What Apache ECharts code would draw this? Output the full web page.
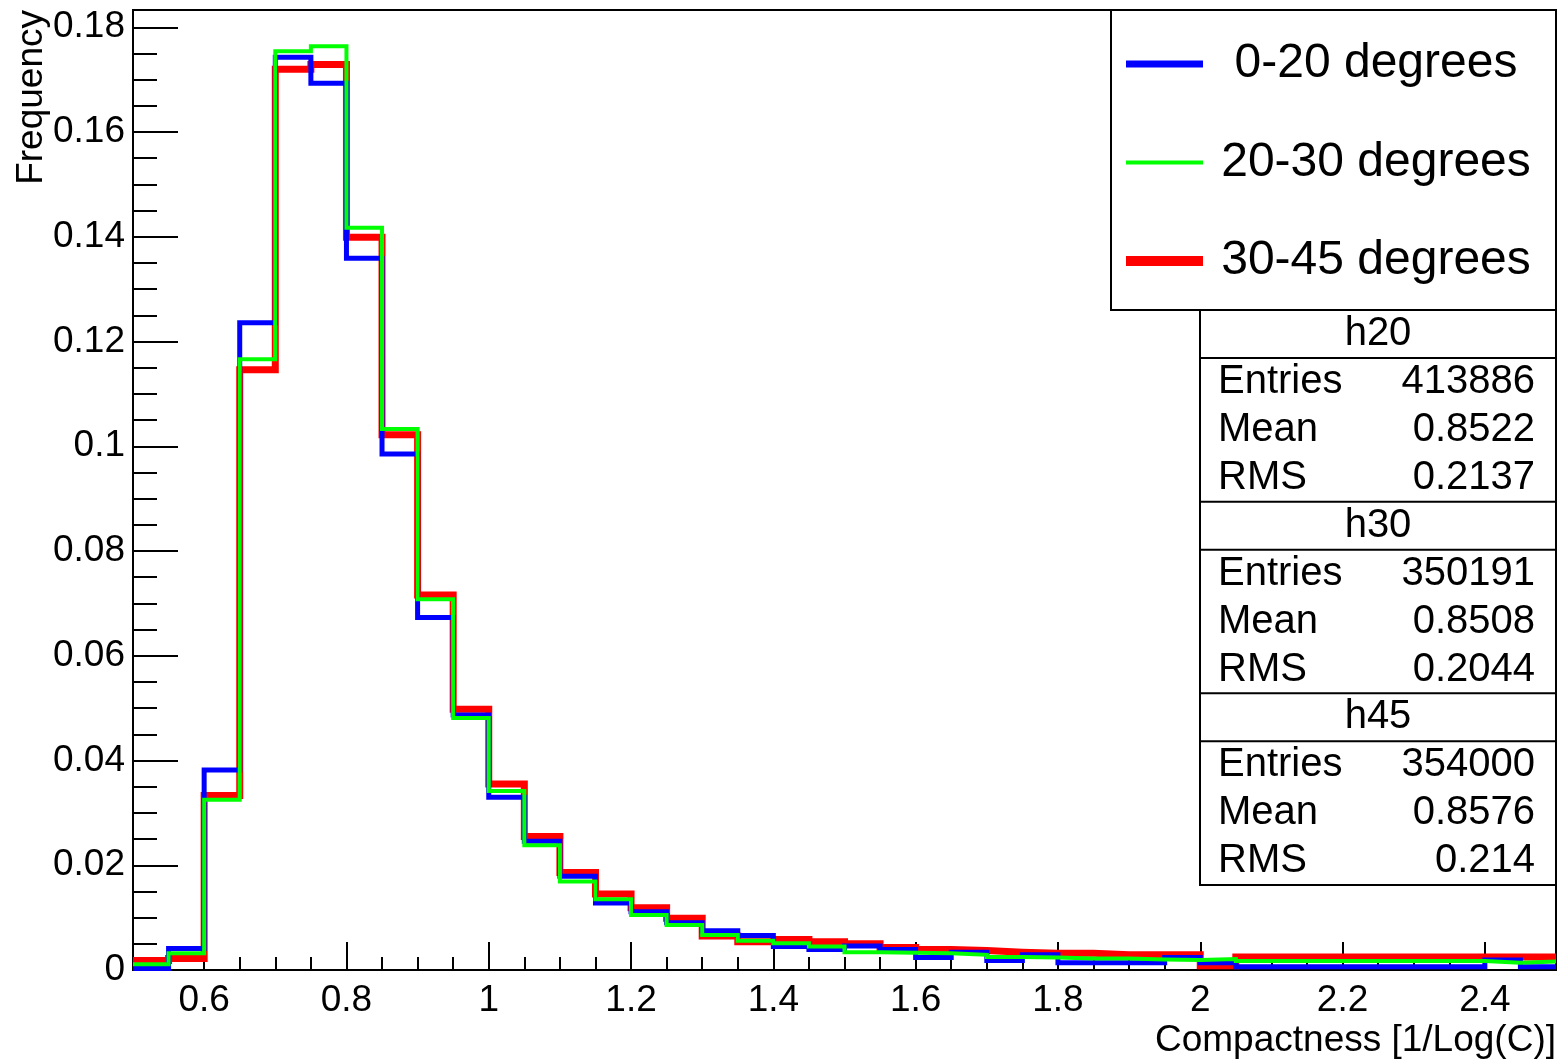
<!DOCTYPE html>
<html>
<head>
<meta charset="utf-8">
<script src="https://cdn.jsdelivr.net/npm/echarts@6/dist/echarts.min.js"></script>
<style>
html,body{margin:0;padding:0;background:#fff;}
#chart{width:1559px;height:1060px;}
</style>
</head>
<body>
<div id="chart"></div>
<script>
// ---- data ----
const binEdges = [0.50,0.55,0.60,0.65,0.70,0.75,0.80,0.85,0.90,0.95,
                  1.00,1.05,1.10,1.15,1.20,1.25,1.30,1.35,1.40,1.45,
                  1.50,1.55,1.60,1.65,1.70,1.75,1.80,1.85,1.90,1.95,
                  2.00,2.05,2.10,2.15,2.20,2.25,2.30,2.35,2.40,2.45,2.50];
const seriesNames = ['0-20 degrees','20-30 degrees','30-45 degrees'];
const h20 = [0.0003,0.0041,0.0382,0.1236,0.1743,0.1693,0.1359,0.0985,0.0673,0.0487,
             0.0330,0.0246,0.0179,0.0128,0.0111,0.0090,0.0075,0.0066,0.0045,0.0039,
             0.0046,0.0039,0.0024,0.0034,0.0018,0.0029,0.0014,0.0014,0.0014,0.0024,
             0.0014,0.0006,0.0006,0.0006,0.0006,0.0006,0.0006,0.0006,0.0019,0.0006];
const h30 = [0.0011,0.0032,0.0325,0.1166,0.1754,0.1764,0.1417,0.1033,0.0708,0.0481,
             0.0342,0.0238,0.0169,0.0135,0.0105,0.0086,0.0067,0.0056,0.0051,0.0045,
             0.0034,0.0033,0.0032,0.0029,0.0025,0.0024,0.0022,0.0022,0.0020,0.0019,
             0.0021,0.0017,0.0017,0.0017,0.0017,0.0017,0.0017,0.0017,0.0014,0.0016];
const h45 = [0.0018,0.0022,0.0333,0.1146,0.1720,0.1729,0.1399,0.1022,0.0716,0.0498,
             0.0355,0.0255,0.0186,0.0145,0.0119,0.0099,0.0065,0.0054,0.0058,0.0054,
             0.0050,0.0043,0.0039,0.0037,0.0034,0.0032,0.0032,0.0029,0.0029,0.0029,
             0.0008,0.0025,0.0025,0.0025,0.0025,0.0025,0.0025,0.0025,0.0025,0.0025];
const xMajorTicks = [0.6,0.8,1.0,1.2,1.4,1.6,1.8,2.0,2.2,2.4];
const yMajorTicks = [0,0.02,0.04,0.06,0.08,0.10,0.12,0.14,0.16,0.18];
const statNames = ['h20','h30','h45'];
const statEntries = ['413886','350191','354000'];
const statMeans = ['0.8522','0.8508','0.8576'];
const statRMS = ['0.2137','0.2044','0.214'];

const FONT = '"Liberation Sans", Arial, Helvetica, sans-serif';

function stepData(vals){
  return binEdges.map((x,i)=>[x, vals[Math.min(i, vals.length-1)]]);
}

// ---- stats box graphic ----
const SX0 = 1200, SX1 = 1556, SY0 = 310, BLOCK = 191.67, TITLE = 48;
const statsGraphic = [];
statsGraphic.push({type:'rect', z:3, shape:{x:SX0,y:SY0,width:SX1-SX0,height:BLOCK*3},
  style:{fill:'#fff',stroke:'#000',lineWidth:2}});
statNames.forEach((nm,k)=>{
  const top = SY0 + k*BLOCK;
  if(k>0) statsGraphic.push({type:'line', z:3, shape:{x1:SX0,y1:top,x2:SX1,y2:top}, style:{stroke:'#000',lineWidth:2}});
  statsGraphic.push({type:'line', z:3, shape:{x1:SX0,y1:top+TITLE,x2:SX1,y2:top+TITLE}, style:{stroke:'#000',lineWidth:2}});
  statsGraphic.push({type:'text', z:4, style:{text:nm, x:(SX0+SX1)/2, y:top+24, align:'center', verticalAlign:'middle', font:'40px '+FONT, fill:'#000'}});
  const rows = [['Entries',statEntries[k]],['Mean',statMeans[k]],['RMS',statRMS[k]]];
  rows.forEach((r,j)=>{
    const cy = top + 72 + j*48;
    statsGraphic.push({type:'text', z:4, style:{text:r[0], x:SX0+18, y:cy, align:'left', verticalAlign:'middle', font:'40px '+FONT, fill:'#000'}});
    statsGraphic.push({type:'text', z:4, style:{text:r[1], x:SX1-21, y:cy, align:'right', verticalAlign:'middle', font:'40px '+FONT, fill:'#000'}});
  });
});

const chart = echarts.init(document.getElementById('chart'), null, {renderer:'canvas'});
const colors = ['#0000ff','#00ff00','#ff0000'];
const widths = [5,4,7];
const legendWidths = [7,4,10];
const vals = [h20,h30,h45];

const series = [2,0,1].map(i=>({
  name: seriesNames[i],
  type:'line',
  step:'end',
  xAxisIndex:0, yAxisIndex:0,
  symbol:'none',
  data: stepData(vals[i]),
  lineStyle:{color:colors[i], width:widths[i], join:'miter', cap:'butt'},
  itemStyle:{color:colors[i]},
  animation:false,
  z: 2
}));

const option = {
  backgroundColor:'#fff',
  animation:false,
  grid:{left:133, right:3, top:10, bottom:90, show:true, borderColor:'#000', borderWidth:2, backgroundColor:'transparent'},
  legend:{
    data: seriesNames.map((n,i)=>({name:n, lineStyle:{width:legendWidths[i], color:colors[i], cap:'butt'}})),
    orient:'vertical',
    left:1121, top:40,
    itemWidth:77, itemHeight:4, itemGap:50.5,
    padding:0,
    selectedMode:false,
    formatter: name => '{c|' + name + '}',
    textStyle:{
      width:336,
      rich:{c:{align:'center', fontSize:48, fontFamily:FONT, color:'#000', lineHeight:50}}
    },
    z:5
  },
  xAxis:[{
    type:'value', min:0.5, max:2.5, interval:0.05, position:'bottom',
    axisLine:{show:true, onZero:false, lineStyle:{color:'#000', width:2}},
    axisTick:{show:true, inside:true, length:13, lineStyle:{color:'#000', width:2}},
    axisLabel:{show:false},
    splitLine:{show:false},
    name:'Compactness [1/Log(C)]',
    nameLocation:'end', nameGap:0,
    nameTextStyle:{fontSize:37, fontFamily:FONT, color:'#000', align:'right', verticalAlign:'top', padding:[52,0,0,0]}
  },{
    type:'value', min:0.5, max:2.5, position:'bottom', offset:0,
    axisLine:{show:false, onZero:false},
    axisTick:{show:true, inside:true, length:28, customValues:xMajorTicks, lineStyle:{color:'#000', width:2}},
    axisLabel:{show:true, customValues:xMajorTicks, margin:12, fontSize:37, fontFamily:FONT, color:'#000'},
    splitLine:{show:false}
  }],
  yAxis:[{
    type:'value', min:0, max:0.1833, interval:0.005, position:'left',
    axisLine:{show:true, onZero:false, lineStyle:{color:'#000', width:2}},
    axisTick:{show:true, inside:true, length:24, lineStyle:{color:'#000', width:2}},
    axisLabel:{show:false},
    splitLine:{show:false},
    name:'Frequency', nameLocation:'end', nameGap:0, nameRotate:90,
    nameTextStyle:{fontSize:37, fontFamily:FONT, color:'#000', align:'right', verticalAlign:'bottom', padding:[0,0,83,0]}
  },{
    type:'value', min:0, max:0.1833, position:'left', offset:0,
    axisLine:{show:false, onZero:false},
    axisTick:{show:true, inside:true, length:45, customValues:yMajorTicks, lineStyle:{color:'#000', width:2}},
    axisLabel:{show:true, customValues:yMajorTicks, margin:8, fontSize:37, fontFamily:FONT, color:'#000'},
    splitLine:{show:false}
  }],
  graphic:[
    {type:'rect', z:3, shape:{x:1111,y:10,width:445,height:300}, style:{fill:'#fff',stroke:'#000',lineWidth:2}}
  ].concat(statsGraphic),
  series: series
};
chart.setOption(option);
</script>
</body>
</html>
